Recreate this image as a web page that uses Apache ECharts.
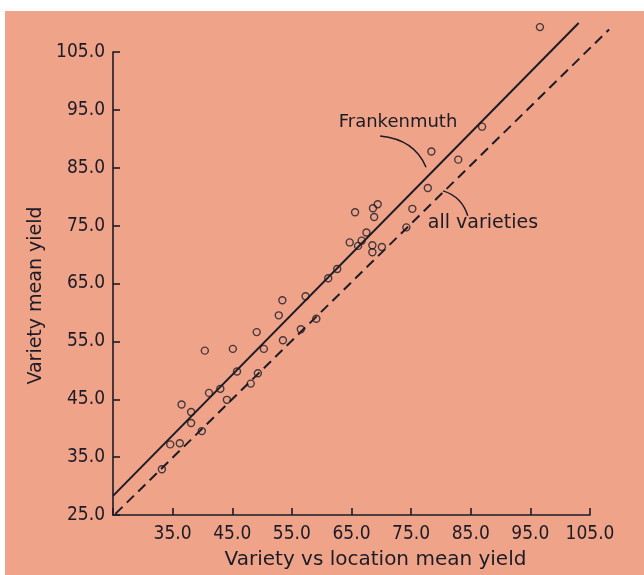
<!DOCTYPE html>
<html>
<head>
<meta charset="utf-8">
<script src="https://cdn.jsdelivr.net/npm/echarts@6/dist/echarts.min.js"></script>
<style>
html,body{margin:0;padding:0;background:#fff;}
#c{width:644px;height:575px;}
</style>
</head>
<body>
<div id="c"></div>
<script>
// ---- data ----
var pointX = [96.6, 86.9, 78.4, 82.9, 77.8, 75.2, 74.2, 65.6, 68.6, 69.4, 68.8,
  64.7, 66.1, 66.7, 67.5, 68.5, 68.5, 70.1, 62.6, 61.1, 57.3, 59.1, 56.5,
  52.8, 53.4, 53.5, 49.1, 50.3, 45.1, 40.4, 45.8, 49.3, 48.1, 43.0, 41.1,
  44.1, 36.5, 38.1, 38.1, 39.9, 34.6, 36.2, 33.2];
var pointY = [109.3, 92.1, 87.8, 86.4, 81.5, 77.9, 74.7, 77.3, 78.0, 78.7, 76.5,
  72.1, 71.5, 72.4, 73.8, 71.6, 70.4, 71.3, 67.5, 65.9, 62.8, 58.9, 57.1,
  59.5, 62.1, 55.2, 56.6, 53.7, 53.7, 53.4, 49.8, 49.5, 47.7, 46.8, 46.1,
  44.9, 44.1, 42.8, 40.9, 39.5, 37.2, 37.4, 32.9];
var frankenmuthLineX = [25.0, 103.1];
var frankenmuthLineY = [28.3, 110.0];
var allVarietiesLineX = [25.4, 108.2];
var allVarietiesLineY = [25.2, 108.9];
var axisMin = 25, axisMax = 105, axisStep = 10;
var xTitle = 'Variety vs location mean yield';
var yTitle = 'Variety mean yield';
var labelFrankenmuth = 'Frankenmuth';
var labelAllVarieties = 'all varieties';
// annotation anchors in data space: text centre, leader start, control, end
var annFrank = {text:[72.8, 92.9], p0:[69.8, 90.5], c:[75.6, 89.9], p1:[77.5, 85.1]};
var annAll = {text:[87.05, 75.5], p0:[80.35, 81.0], c:[83.5, 80.0], p1:[84.5, 76.7]};

var INK = '#1c1b26';
var BG = '#efa48a';
var FONT_NUM = '"DejaVu Sans Condensed", "DejaVu Sans", sans-serif';
var FONT = '"DejaVu Sans", sans-serif';

function zip(a, b){ return a.map(function(v,i){ return [v, b[i]]; }); }

// straight fitted line drawn through the axes' own scales, not clipped to the grid
function fitLine(name, xs, ys, dash){
  return {
    name: name, type: 'custom', clip: false, silent: true, z: 3,
    data: zip(xs, ys),
    encode: {x: 0, y: 1},
    renderItem: function(params, api){
      if (params.dataIndex !== 0) return null;
      var a = api.coord([xs[0], ys[0]]);
      var b = api.coord([xs[1], ys[1]]);
      return {
        type: 'line',
        shape: {x1: a[0], y1: a[1], x2: b[0], y2: b[1]},
        style: {stroke: INK, lineWidth: 2, lineDash: dash}
      };
    }
  };
}

var chart = echarts.init(document.getElementById('c'), null, {renderer:'canvas'});
var fmt = function(v){ return v.toFixed(1); };
chart.setOption({
  backgroundColor: '#ffffff',
  animation: false,
  grid: {left: 113, right: 54, top: 52, bottom: 57, containLabel: false},
  xAxis: {
    type: 'value', min: axisMin, max: axisMax, interval: axisStep,
    name: xTitle, nameLocation: 'middle', nameGap: 35,
    nameTextStyle: {color: INK, fontSize: 20, fontFamily: FONT, padding: [0,0,0,48]},
    axisLine: {show: true, lineStyle: {color: INK, width: 1.6}},
    axisTick: {show: true, inside: true, length: 7, lineStyle: {color: INK, width: 1.6}},
    axisLabel: {color: INK, fontSize: 19, fontFamily: FONT_NUM, margin: 10,
      formatter: function(v){ return v === axisMin ? '' : fmt(v); }},
    splitLine: {show: false}
  },
  yAxis: {
    type: 'value', min: axisMin, max: axisMax, interval: axisStep,
    name: yTitle, nameLocation: 'middle', nameGap: 52, nameRotate: 90,
    nameTextStyle: {color: INK, fontSize: 19, fontFamily: FONT, padding: [0,24,0,0]},
    axisLine: {show: true, lineStyle: {color: INK, width: 1.6}},
    axisTick: {show: true, inside: true, length: 7, lineStyle: {color: INK, width: 1.6}},
    axisLabel: {color: INK, fontSize: 19, fontFamily: FONT_NUM, margin: 8, formatter: fmt},
    splitLine: {show: false}
  },
  series: [
    fitLine('Frankenmuth', frankenmuthLineX, frankenmuthLineY, null),
    fitLine('all varieties', allVarietiesLineX, allVarietiesLineY, [10, 6]),
    {
      name: 'varieties', type: 'scatter', clip: false, symbol: 'circle', symbolSize: 7,
      data: zip(pointX, pointY),
      itemStyle: {color: 'rgba(0,0,0,0)', borderColor: INK, borderWidth: 1.4}, z: 4
    }
  ]
});

function px(p){ return chart.convertToPixel({gridIndex: 0}, p); }
function annotation(a, label, size){
  var t = px(a.text), p0 = px(a.p0), c = px(a.c), p1 = px(a.p1);
  return [
    {type: 'text', x: t[0], y: t[1], z: 10, silent: true,
      style: {text: label, fill: INK, fontSize: size, fontFamily: FONT,
        align: 'center', verticalAlign: 'middle', textAlign: 'center', textVerticalAlign: 'middle'}},
    {type: 'bezierCurve', z: 10, silent: true,
      shape: {x1: p0[0], y1: p0[1], cpx1: c[0], cpy1: c[1], x2: p1[0], y2: p1[1]},
      style: {stroke: INK, lineWidth: 1.5, fill: null}}
  ];
}
chart.setOption({
  graphic: [
    {type: 'rect', z: -100, silent: true, shape: {x: 5, y: 11, width: 644, height: 575},
      style: {fill: BG}}
  ].concat(annotation(annFrank, labelFrankenmuth, 18)).concat(annotation(annAll, labelAllVarieties, 19))
});
</script>
</body>
</html>
